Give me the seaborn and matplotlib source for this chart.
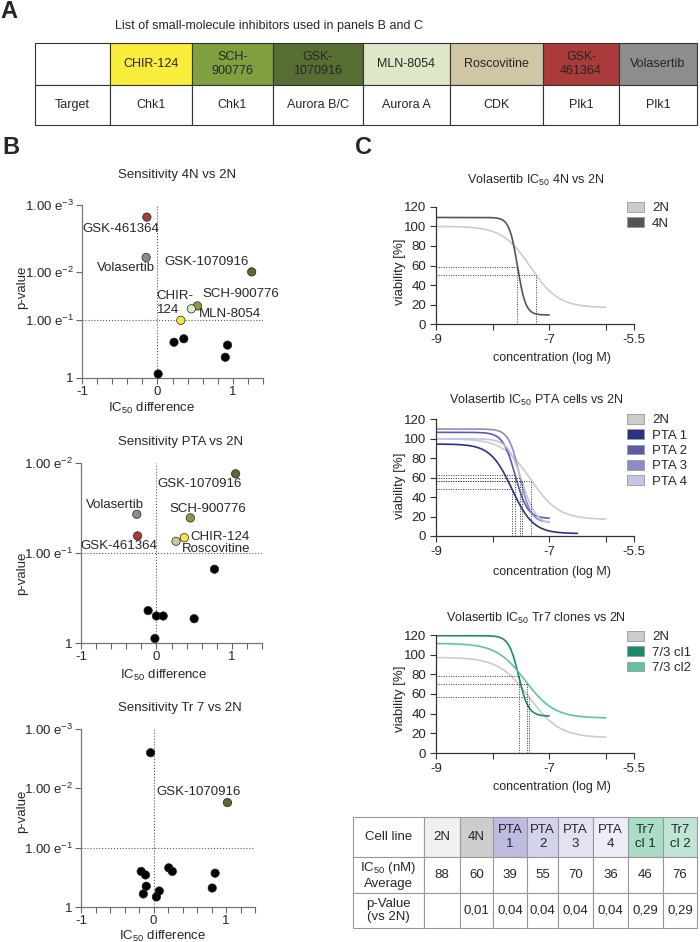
# Recreation of a three-panel figure:
#   A - table of small-molecule inhibitors
#   B - volcano-style plots (IC50 difference vs p-value)
#   C - Volasertib dose-response curves + summary table

import numpy as np
import pandas as pd
import matplotlib
matplotlib.use("Agg")
import matplotlib.pyplot as plt
from matplotlib.patches import Patch
from matplotlib.ticker import MultipleLocator, NullLocator
import seaborn as sns

# -----------------------------------------------------------
# DATA
# -----------------------------------------------------------

# Panel A - inhibitor table
drug_names   = ["CHIR-124", "SCH-\n900776", "GSK-\n1070916", "MLN-8054",
                "Roscovitine", "GSK-\n461364", "Volasertib"]
drug_targets = ["Chk1", "Chk1", "Aurora B/C", "Aurora A", "CDK", "Plk1", "Plk1"]

# Panel B - one point per inhibitor (y is the position on the p-value axis)
b1_drug = ["GSK-461364", "Volasertib", "GSK-1070916", "SCH-900776", "MLN-8054",
           "CHIR-124", "other", "other", "other", "other", "other"]
b1_x = [-0.14, -0.15, 1.25, 0.53, 0.45, 0.31, 0.22, 0.35, 0.93, 0.90, 0.01]
b1_y = [2.79, 2.09, 1.84, 1.25, 1.20, 1.00, 0.62, 0.68, 0.57, 0.36, 0.07]

b2_drug = ["GSK-1070916", "Volasertib", "SCH-900776", "GSK-461364", "CHIR-124",
           "Roscovitine", "other", "other", "other", "other", "other", "other"]
b2_x = [1.05, -0.26, 0.45, -0.25, 0.37, 0.26, 0.77, -0.11, 0.00, 0.09, 0.50, -0.02]
b2_y = [1.88, 1.43, 1.39, 1.19, 1.17, 1.13, 0.82, 0.36, 0.30, 0.30, 0.27, 0.05]

b3_drug = ["GSK-1070916"] + ["other"] * 11
b3_x = [1.02, -0.04, 0.21, 0.26, -0.17, -0.11, -0.10, -0.14, 0.08, 0.04, 0.85, 0.81]
b3_y = [1.76, 2.60, 0.66, 0.60, 0.60, 0.54, 0.35, 0.22, 0.27, 0.17, 0.57, 0.32]

# p-value axis ticks
b1_yticks = [0, 1, 1.84, 3]
b1_yticklabels = ["1", r"1.00 e$^{-1}$", r"1.00 e$^{-2}$", r"1.00 e$^{-3}$"]
b2_yticks = [0, 1, 2]
b2_yticklabels = ["1", r"1.00 e$^{-1}$", r"1.00 e$^{-2}$"]
b3_yticks = [0, 1, 2, 3]
b3_yticklabels = ["1", r"1.00 e$^{-1}$", r"1.00 e$^{-2}$", r"1.00 e$^{-3}$"]

# Panel C - fitted curves (4-parameter logistic)
c1_lines     = ["2N", "4N"]
c1_top       = [100, 109]
c1_bottom    = [17, 9.5]
c1_log_ic50  = [-7.33, -7.56]
c1_hill      = [1.75, 6.0]
c1_last_dose = [-6.0, -7.0]
c1_guide_x   = [-7.24, -7.56]
c1_guide_y   = [50, 58.8]

c2_lines     = ["2N", "PTA 1", "PTA 2", "PTA 3", "PTA 4"]
c2_top       = [100, 94.6, 106.6, 110, 100]
c2_bottom    = [17, 2.5, 18, 14, 12]
c2_log_ic50  = [-7.33, -7.66, -7.60, -7.52, -7.48]
c2_hill      = [1.75, 2.3, 4.0, 4.5, 3.5]
c2_last_dose = [-6.0, -6.5, -7.0, -7.0, -7.0]
c2_guide_x   = [-7.32, -7.66, -7.61, -7.51, -7.48]
c2_guide_y   = [56.6, 48.3, 62.7, 60.0, 56.6]

c3_lines     = ["2N", "7/3 cl1", "7/3 cl2"]
c3_top       = [97.3, 119.3, 111.5]
c3_bottom    = [15.5, 37.5, 35.5]
c3_log_ic50  = [-7.35, -7.54, -7.42]
c3_hill      = [1.6, 5.0, 1.7]
c3_last_dose = [-6.0, -7.0, -6.0]
c3_guide_x   = [-7.35, -7.54, -7.39]
c3_guide_y   = [56.5, 78.2, 70.0]

# Panel C - summary table
cell_lines  = ["2N", "4N", "PTA\n1", "PTA\n2", "PTA\n3", "PTA\n4", "Tr7\ncl 1", "Tr7\ncl 2"]
ic50_avg    = ["88", "60", "39", "55", "70", "36", "46", "76"]
p_vs_2n     = ["", "0,01", "0,04", "0,04", "0,04", "0,04", "0,29", "0,29"]

# -----------------------------------------------------------
# COLOURS
# -----------------------------------------------------------
drug_colours = {
    "CHIR-124":    "#f5e63c",
    "SCH-900776":  "#7e9f3f",
    "GSK-1070916": "#566b2f",
    "MLN-8054":    "#dfe7c9",
    "Roscovitine": "#cec5a4",
    "GSK-461364":  "#a93a39",
    "Volasertib":  "#8c8c8c",
    "other":       "#000000",
}
table_a_colours = ["#f9ec3b", "#80a040", "#586d31", "#dfe7c9", "#cfc6a5", "#aa3b3a", "#8d8d8d"]

curve_colours = {
    "2N": "#cccccc", "4N": "#555555",
    "PTA 1": "#2b3384", "PTA 2": "#5a5ca8", "PTA 3": "#8b8cc6", "PTA 4": "#c4c4e3",
    "7/3 cl1": "#1b8a68", "7/3 cl2": "#5fc49b",
}
table_c_colours = ["#f0f0f1", "#cdcdcd", "#bdbbe0", "#d4d3ec", "#e3e2f3",
                   "#efeef8", "#a9ddc6", "#bfe6d5"]

# -----------------------------------------------------------
# STYLE
# -----------------------------------------------------------
sns.set_theme(style="ticks")
plt.rcParams["font.family"] = ["Liberation Sans", "DejaVu Sans"]
plt.rcParams["mathtext.fontset"] = "custom"
plt.rcParams["mathtext.rm"] = "Liberation Sans"
plt.rcParams["mathtext.it"] = "Liberation Sans:italic"
plt.rcParams["mathtext.bf"] = "Liberation Sans:bold"

W, H = 700, 942   # figure size in pixels
FS = 9
FS_B = 9.5        # panel B text is a touch larger


def box(left, top, right, bottom):
    """pixel box (from top-left) -> figure fraction [l, b, w, h]"""
    return [left / W, 1 - bottom / H, (right - left) / W, (bottom - top) / H]


def put(x, y, s, **kw):
    """text at a pixel position (from top-left)"""
    kw.setdefault("fontsize", FS)
    kw.setdefault("ha", "center")
    kw.setdefault("va", "center")
    fig.text(x / W, 1 - y / H, s, **kw)


fig = plt.figure(figsize=(W / 100, H / 100), dpi=100)
bg = fig.add_axes([0, 0, 1, 1])
bg.axis("off")

# panel letters
put(9, 12, "A", fontsize=17, fontweight="bold")
put(11, 147, "B", fontsize=17, fontweight="bold")
put(364, 147, "C", fontsize=17, fontweight="bold")

# -----------------------------------------------------------
# PANEL A - table
# -----------------------------------------------------------
put(269, 26, "List of small-molecule inhibitors used in panels B and C")

col_px = [35, 110, 192, 273, 363, 450, 543, 619, 697]
tab_a = bg.table(
    cellText=[[""] + drug_names, ["Target"] + drug_targets],
    cellColours=[["white"] + table_a_colours, ["white"] * 8],
    colWidths=np.diff(col_px),
    cellLoc="center",
    bbox=box(35, 43, 697, 125),
)
tab_a.auto_set_font_size(False)
for (r, c), cell in tab_a.get_celld().items():
    cell.set_height([42, 40][r])
    cell.set_edgecolor("#333333")
    cell.set_linewidth(0.8)
    cell.get_text().set_fontsize(FS)

# -----------------------------------------------------------
# PANEL B - volcano plots
# -----------------------------------------------------------


def volcano(rect, xs, ys, drugs, yticks, yticklabels, ymax, labels, title, title_xy, ylab_y, xlab_xy):
    ax = fig.add_axes(rect)
    df = pd.DataFrame({"x": xs, "y": ys, "drug": drugs})
    sns.scatterplot(data=df, x="x", y="y", hue="drug", palette=drug_colours,
                    s=36, edgecolor="#222222", linewidth=0.5, legend=False,
                    ax=ax, zorder=3, clip_on=False)
    ax.axvline(0, color="#555555", ls=":", lw=0.8, zorder=1)
    ax.axhline(1, color="#555555", ls=":", lw=0.8, zorder=1)

    ax.set_xlim(-1, 1.4)
    ax.set_ylim(0, ymax)
    ax.set_xticks([-1, 0, 1])
    ax.set_xticklabels(["-1", "0", "1"])
    ax.xaxis.set_minor_locator(MultipleLocator(0.2))
    ax.yaxis.set_minor_locator(NullLocator())
    ax.set_yticks(yticks)
    ax.set_yticklabels(yticklabels)
    ax.tick_params(which="both", direction="out", length=4, width=0.8,
                   color="#666666", labelsize=FS_B, pad=2)
    ax.set_xlabel("")
    ax.set_ylabel("")
    sns.despine(ax=ax)
    for side in ["left", "bottom"]:
        ax.spines[side].set_color("#777777")
        ax.spines[side].set_linewidth(0.9)

    for name, (dx, dy, ha) in labels.items():
        row = df[df["drug"] == name].iloc[0]
        ax.annotate(name.replace("CHIR-124", "CHIR-\n124") if ha == "left" else name,
                    (row["x"], row["y"]), xytext=(dx, dy), textcoords="offset pixels",
                    ha=ha, va="center", fontsize=FS_B, zorder=4)

    put(title_xy[0], title_xy[1], title, fontsize=FS_B)
    put(22, ylab_y, "p-value", rotation=90, fontsize=FS_B)
    put(xlab_xy[0], xlab_xy[1], r"IC$_{50}$ difference", fontsize=FS_B)
    return ax


volcano(box(82, 205, 263, 378), b1_x, b1_y, b1_drug, b1_yticks, b1_yticklabels, 3,
        {"GSK-461364": (-26, -12, "center"), "Volasertib": (-20, -11, "center"),
         "GSK-1070916": (-45, 10, "center"), "SCH-900776": (43, 12, "center"),
         "MLN-8054": (39, -5, "center"), "CHIR-124": (-24, 17, "left")},
        "Sensitivity 4N vs 2N", (177, 175), 287, (152, 408))

volcano(box(81, 463, 262, 643), b2_x, b2_y, b2_drug, b2_yticks, b2_yticklabels, 2,
        {"GSK-1070916": (-36, -10, "center"), "Volasertib": (-22, 9, "center"),
         "SCH-900776": (17, 9, "center"), "GSK-461364": (-19, -10, "center"),
         "CHIR-124": (36, 1, "center"), "Roscovitine": (40, -8, "center")},
        "Sensitivity PTA vs 2N", (181, 442), 573, (164, 675))

volcano(box(81, 729, 255, 907), b3_x, b3_y, b3_drug, b3_yticks, b3_yticklabels, 3,
        {"GSK-1070916": (-29, 11, "center")},
        "Sensitivity Tr 7 vs 2N", (180, 708), 811, (163, 936))

# -----------------------------------------------------------
# PANEL C - dose-response curves
# -----------------------------------------------------------


def dose_response(x, top, bottom, log_ic50, hill):
    return bottom + (top - bottom) / (1 + 10 ** ((x - log_ic50) * hill))


def curves(rect, lines, top, bottom, log_ic50, hill, last_dose, gx, gy,
           title, title_y, ylab_y, xlab_y, legend_top):
    ax = fig.add_axes(rect)
    frames = []
    for i, name in enumerate(lines):
        logc = np.linspace(-9, last_dose[i], 300)
        frames.append(pd.DataFrame({
            "logc": logc,
            "viability": dose_response(logc, top[i], bottom[i], log_ic50[i], hill[i]),
            "line": name,
        }))
    df = pd.concat(frames, ignore_index=True)
    sns.lineplot(data=df, x="logc", y="viability", hue="line", hue_order=lines,
                 palette=curve_colours, estimator=None, lw=1.2, legend=False, ax=ax)

    # dotted IC50 guides
    for x0, y0 in zip(gx, gy):
        ax.plot([-9, x0], [y0, y0], color="#333333", ls=(0, (1, 1.5)), lw=0.7)
        ax.plot([x0, x0], [0, y0], color="#333333", ls=(0, (1, 1.5)), lw=0.7)

    ax.set_xlim(-9, -5.5)
    ax.set_ylim(0, 120)
    ax.set_xticks([-9, -8, -7, -6, -5.5])
    ax.set_xticklabels(["-9", "", "-7", "", "-5.5"])
    ax.set_yticks(range(0, 121, 20))
    ax.tick_params(direction="out", length=4, width=0.8, color="#333333",
                   labelsize=9.5, pad=3)
    ax.set_xlabel("")
    ax.set_ylabel("")
    sns.despine(ax=ax)
    for side in ["left", "bottom"]:
        ax.spines[side].set_color("#333333")
        ax.spines[side].set_linewidth(0.9)

    handles = [Patch(facecolor=curve_colours[n], edgecolor="#999999", lw=0.6, label=n)
               for n in lines]
    ax.legend(handles=handles, loc="upper left",
              bbox_to_anchor=(627 / W, 1 - legend_top / H), bbox_transform=fig.transFigure,
              frameon=False, fontsize=9.5, handlelength=1.3, handleheight=0.75,
              labelspacing=0.22, handletextpad=0.6, borderpad=0, borderaxespad=0)

    put(536, title_y, title)
    put(400, ylab_y, "viability [%]", rotation=90, fontsize=9.5)
    put(552, xlab_y, "concentration (log M)")
    return ax


curves(box(436, 206.7, 634, 324.3), c1_lines, c1_top, c1_bottom, c1_log_ic50, c1_hill,
       c1_last_dose, c1_guide_x, c1_guide_y,
       r"Volasertib IC$_{50}$ 4N vs 2N", 180, 272, 358, 202)

curves(box(436, 419.3, 634, 536), c2_lines, c2_top, c2_bottom, c2_log_ic50, c2_hill,
       c2_last_dose, c2_guide_x, c2_guide_y,
       r"Volasertib IC$_{50}$ PTA cells vs 2N", 400, 486, 572, 414)

curves(box(436, 635, 634, 753), c3_lines, c3_top, c3_bottom, c3_log_ic50, c3_hill,
       c3_last_dose, c3_guide_x, c3_guide_y,
       r"Volasertib IC$_{50}$ Tr7 clones vs 2N", 618, 699, 787, 631)

# -----------------------------------------------------------
# PANEL C - summary table
# -----------------------------------------------------------
col_px_c = [353, 424, 460, 493, 527, 558, 593, 628, 663, 697]
tab_c = bg.table(
    cellText=[["Cell line"] + cell_lines,
              [r"IC$_{50}$ (nM)" + "\nAverage"] + ic50_avg,
              ["p-Value\n(vs 2N)"] + p_vs_2n],
    cellColours=[["white"] + table_c_colours, ["white"] * 9, ["white"] * 9],
    colWidths=np.diff(col_px_c),
    cellLoc="center",
    bbox=box(353, 817, 697, 928),
)
tab_c.auto_set_font_size(False)
for (r, c), cell in tab_c.get_celld().items():
    cell.set_height([40.6, 36, 35][r])
    cell.set_edgecolor("#999999")
    cell.set_linewidth(0.8)
    cell.get_text().set_fontsize(9.5)

fig.savefig("out.png", dpi=100)
print("saved out.png")
